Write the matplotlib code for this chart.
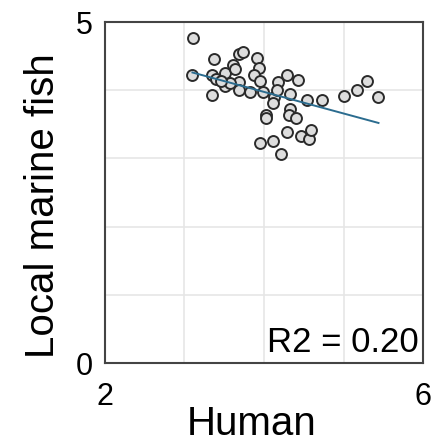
# Local marine fish vs. human: scatter with linear fit
import numpy as np
import matplotlib.pyplot as plt

plt.rcParams['font.family'] = ['Liberation Sans', 'DejaVu Sans']

human = [3.11, 3.10, 3.37, 3.35, 3.34, 3.40, 3.51, 3.51, 3.61, 3.63,
         3.68, 3.74, 3.69, 3.69, 3.82, 3.91, 3.94, 3.87, 3.95, 3.99,
         4.12, 4.11, 4.18, 4.16, 4.29, 4.43, 4.33, 4.03, 4.03, 4.33,
         4.31, 4.40, 4.29, 3.95, 4.11, 4.22, 4.47, 4.56, 4.59, 4.54,
         4.73, 5.01, 5.17, 5.29, 5.44, 3.57, 3.46]
fish = [4.77, 4.23, 4.46, 3.93, 4.22, 4.17, 4.25, 4.06, 4.37, 4.31,
        4.53, 4.56, 4.12, 4.00, 3.98, 4.47, 4.33, 4.22, 4.14, 3.98,
        3.90, 3.81, 4.12, 4.01, 4.22, 4.15, 3.94, 3.64, 3.59, 3.72,
        3.64, 3.59, 3.39, 3.23, 3.26, 3.06, 3.33, 3.29, 3.42, 3.86,
        3.85, 3.91, 4.00, 4.14, 3.90, 4.10, 4.14]

# fitted line end points
fit_x = [3.10, 5.44]
fit_y = [4.26, 3.52]
r2_text = "R2 = 0.20"

fig = plt.figure(figsize=(4.38, 4.44), dpi=100)
ax = fig.add_axes([0.2397, 0.1824, 0.7261, 0.7680])

ax.scatter(human, fish, s=62, facecolor='#dddddd', edgecolor='#2a2a2a',
           linewidth=1.4, zorder=3)
ax.plot(fit_x, fit_y, color='#2b6c8f', linewidth=1.4, zorder=4)

ax.set_xlim(2, 6)
ax.set_ylim(0, 5)
ax.set_xticks([3, 4, 5], minor=True)
ax.set_yticks([1, 2, 3, 4], minor=True)
ax.set_xticks([2, 6])
ax.set_yticks([0, 5])
ax.grid(True, which='minor', color='#e6e6e6', linewidth=1.2)
ax.set_axisbelow(True)
ax.tick_params(which='both', length=0)
ax.tick_params(axis='x', labelsize=22, pad=14)
ax.tick_params(axis='y', labelsize=22, pad=9)

for s in ax.spines.values():
    s.set_color('#444444')
    s.set_linewidth(1.5)

ax.set_xlabel("Human", fontsize=29)
ax.set_ylabel("Local marine fish", fontsize=29)
ax.xaxis.set_label_coords(0.462, -0.122)
ax.yaxis.set_label_coords(-0.135, 0.463)

ax.text(0.987, 0.032, r2_text, transform=ax.transAxes, fontsize=25,
        ha='right', va='baseline')

fig.savefig("out.png", dpi=100)
